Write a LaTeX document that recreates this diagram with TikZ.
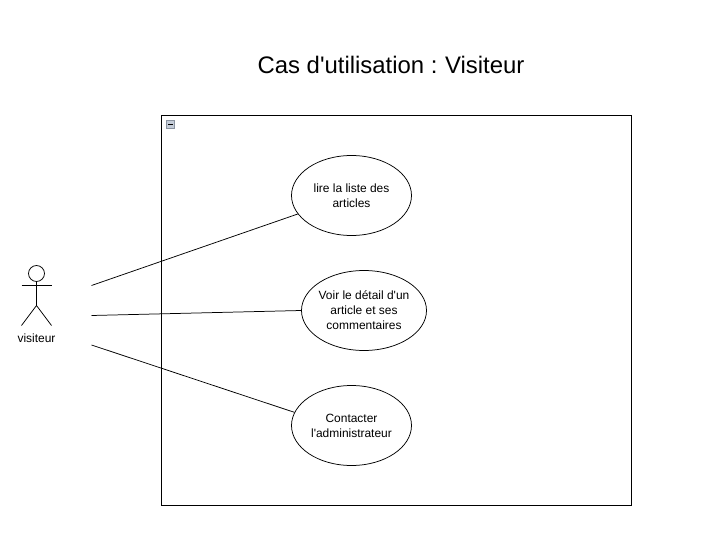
\documentclass[tikz,border=0pt]{standalone}
\usepackage{fontspec}
\newfontfamily\lib{Liberation Sans}
\usetikzlibrary{shapes.geometric}
\definecolor{boxgrey}{HTML}{C4CCD8}
\definecolor{boxedge}{HTML}{8A93A0}
\tikzset{
  usecase/.style={draw=black,ellipse,line width=0.75pt,minimum width=120bp,minimum height=80bp,inner sep=-12bp,align=center,font=\lib\fontsize{12}{15}\selectfont},
  assoc/.style={draw=black,line width=0.75pt},
  limb/.style={draw=black,line width=0.75pt},
}
\begin{document}
\begin{tikzpicture}[x=1bp,y=-1bp]
\useasboundingbox (0,0) rectangle (717,549);
\node[font=\lib\fontsize{24}{28}\selectfont,anchor=center] (title) at (391,64.5) {Cas d'utilisation :\kern-1.3pt{} Visiteur};
\draw[line width=0.75pt] (161.5,115.5) rectangle (631.5,505.5);
\node[draw=boxedge,fill=boxgrey,line width=0.75pt,minimum width=8bp,minimum height=8bp,inner sep=0pt] (collapse) at (170.5,124.5) {};
\draw[line width=1pt] (168,124.5) -- (173,124.5);
\node[usecase] (uc1) at (351.5,195.5) {lire la liste des\\articles};
\node[usecase,minimum width=125bp] (uc2) at (364,310.5) {Voir le détail d'un\\article et ses\\commentaires};
\node[usecase] (uc3) at (351.5,425.5) {Contacter\\l'administrateur};
\node[draw=black,circle,line width=0.75pt,minimum size=16bp,inner sep=0pt] (head) at (36.5,273.5) {};
\coordinate (hip) at (36.5,305.5);
\coordinate (armL) at (21.5,285.5);
\coordinate (armR) at (51.5,285.5);
\coordinate (footL) at (21.5,325.5);
\coordinate (footR) at (51.5,325.5);
\draw[limb] (head.south) -- (hip);
\draw[limb] (armL) -- (armR);
\draw[limb] (footL) -- (hip) -- (footR);
\node[font=\lib\fontsize{12}{15}\selectfont] (actor) at (36.5,338.5) {visiteur};
\coordinate (a1) at (91.5,285.5);
\coordinate (a2) at (91.5,315.5);
\coordinate (a3) at (91.5,345);
\draw[assoc] (a1) -- (uc1.199);
\draw[assoc] (a2) -- (uc2.180);
\draw[assoc] (a3) -- (uc3.167);
\end{tikzpicture}
\end{document}
